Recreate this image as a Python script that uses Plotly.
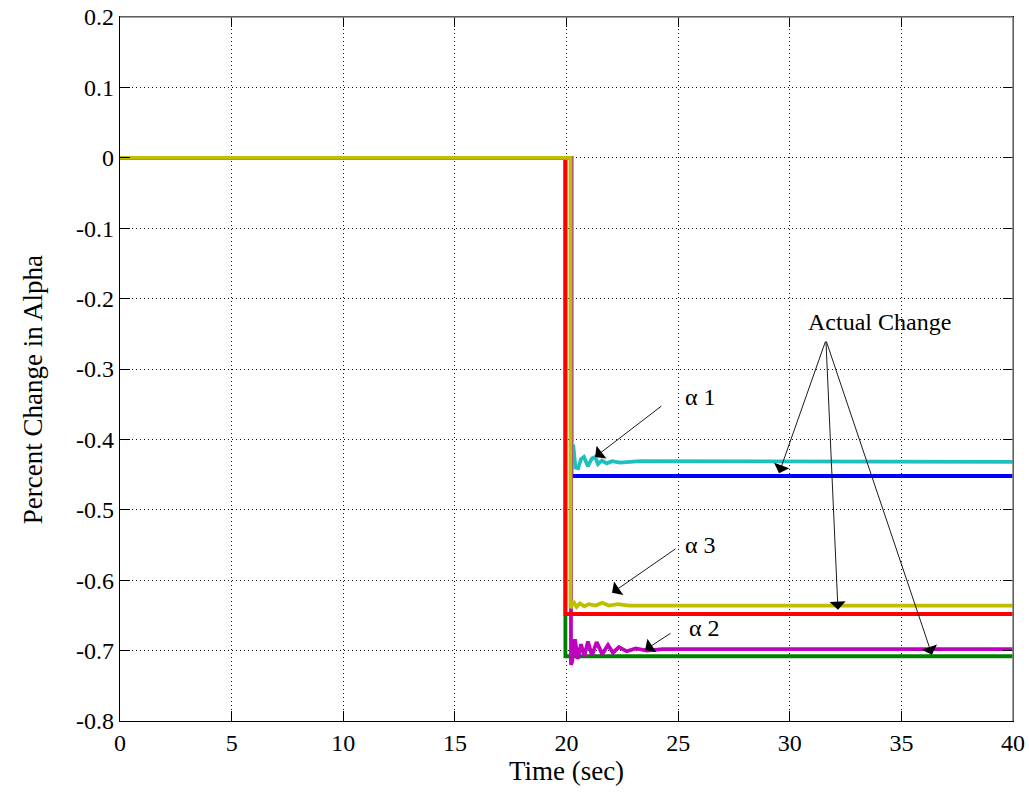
import plotly.graph_objects as go

# Time axis and tick labels
x_ticks = [0, 5, 10, 15, 20, 25, 30, 35, 40]
y_ticks = [0.2, 0.1, 0.0, -0.1, -0.2, -0.3, -0.4, -0.5, -0.6, -0.7, -0.8]
y_tick_text = ["0.2", "0.1", "0", "-0.1", "-0.2", "-0.3", "-0.4", "-0.5", "-0.6", "-0.7", "-0.8"]

# Actual parameter changes (step at t ~ 20 s)
blue_t = [0, 20.22, 20.22, 40]
blue_v = [0, 0, -0.452, -0.452]
red_t = [0, 19.95, 19.95, 40]
red_v = [0, 0, -0.648, -0.648]
green_t = [0, 19.95, 19.95, 40]
green_v = [0, 0, -0.708, -0.708]

# Estimated alpha 1 (cyan)
cyan_t = [0, 20.22, 20.22, 20.30, 20.40, 20.52, 20.65, 20.78, 20.96, 21.14, 21.28, 21.41,
          21.59, 21.80, 22.04, 22.40, 23.30, 40]
cyan_v = [0, 0, -0.410, -0.408, -0.440, -0.441, -0.428, -0.425, -0.438, -0.427, -0.425, -0.435,
          -0.430, -0.434, -0.431, -0.433, -0.431, -0.432]

# Estimated alpha 2 (magenta)
magenta_t = [0, 20.20, 20.20, 20.25, 20.38, 20.50, 20.65, 20.80, 20.96, 21.14, 21.35,
             21.60, 21.86, 22.08, 22.35, 22.70, 23.10, 23.60, 24.30, 40]
magenta_v = [0, 0, -0.720, -0.716, -0.684, -0.712, -0.691, -0.708, -0.687, -0.707, -0.688,
             -0.705, -0.692, -0.703, -0.695, -0.701, -0.697, -0.700, -0.698, -0.698]

# Estimated alpha 3 (yellow)
yellow_t = [0, 20.18, 20.18, 20.30, 20.45, 20.60, 20.80, 21.00, 21.30, 21.60, 21.90,
            22.30, 22.80, 40]
yellow_v = [0, 0, -0.640, -0.630, -0.638, -0.633, -0.637, -0.634, -0.636, -0.632, -0.636,
            -0.634, -0.636, -0.636]

FONT = "Liberation Serif"
LW = 3.8

series = [
    (blue_t, blue_v, "#0000FF"),
    (green_t, green_v, "#008000"),
    (cyan_t, cyan_v, "#1FBFBF"),
    (magenta_t, magenta_v, "#BF00BF"),
    (red_t, red_v, "#FF0000"),
    (yellow_t, yellow_v, "#BFBF00"),
]

fig = go.Figure()
for t, v, c in series:
    fig.add_trace(go.Scatter(x=t, y=v, mode="lines",
                             line=dict(color=c, width=LW), showlegend=False,
                             hoverinfo="skip"))

# Labels with arrows: (text, text_x, text_y, tail_x, tail_y, [heads])
labels = [
    ("\u03b1 1", 25.98, -0.340, 24.32, -0.351, [(21.28, -0.425)]),
    ("\u03b1 3", 25.98, -0.550, 24.95, -0.554, [(22.04, -0.618)]),
    ("\u03b1 2", 26.20, -0.668, 24.73, -0.674, [(23.52, -0.699)]),
    ("Actual Change", 34.0, -0.233, 31.62, -0.259,
     [(29.52, -0.448), (32.16, -0.642), (36.37, -0.706)]),
]

annotations = []
for text, tx, ty, ax, ay, heads in labels:
    annotations.append(dict(x=tx, y=ty, xref="x", yref="y", text=text,
                            showarrow=False,
                            font=dict(family=FONT, size=24, color="black")))
    for hx, hy in heads:
        annotations.append(dict(x=hx, y=hy, ax=ax, ay=ay, xref="x", yref="y",
                                axref="x", ayref="y", text="", showarrow=True,
                                arrowhead=1, arrowsize=3, arrowwidth=0.9,
                                arrowcolor="black", standoff=0, startstandoff=0))

# Vertical axis title
annotations.append(dict(x=-0.0974, y=0.47, xref="paper", yref="paper",
                        text="Percent Change in Alpha", textangle=-90,
                        showarrow=False, xanchor="center", yanchor="middle",
                        font=dict(family=FONT, size=27, color="black")))

axis_common = dict(
    showgrid=True, gridcolor="#111111", gridwidth=1, griddash="1px,3px",
    zeroline=False, showline=True, linecolor="black", linewidth=1.3,
    mirror="ticks", ticks="inside", ticklen=10, tickcolor="black",
    automargin=False,
    tickfont=dict(family=FONT, size=24, color="black"),
)

fig.update_layout(
    width=1029, height=796,
    margin=dict(l=120, r=16, t=17, b=75, autoexpand=False),
    paper_bgcolor="white", plot_bgcolor="white",
    font=dict(family=FONT, color="black", size=24),
    xaxis=dict(range=[0, 40], tickvals=x_ticks, ticktext=[str(v) for v in x_ticks],
               title=dict(text="Time (sec)", font=dict(family=FONT, size=27), standoff=4),
               **axis_common),
    yaxis=dict(range=[-0.8, 0.2], tickvals=y_ticks, ticktext=y_tick_text,
               **axis_common),
    annotations=annotations,
    shapes=[
        dict(type="line", xref="paper", yref="paper", x0=0, x1=1, y0=1, y1=1,
             line=dict(color="#808080", width=1.5), layer="above"),
        dict(type="line", xref="paper", yref="paper", x0=1, x1=1, y0=0, y1=1,
             line=dict(color="#808080", width=1.5), layer="above"),
    ],
)

fig.write_html("out.html")
